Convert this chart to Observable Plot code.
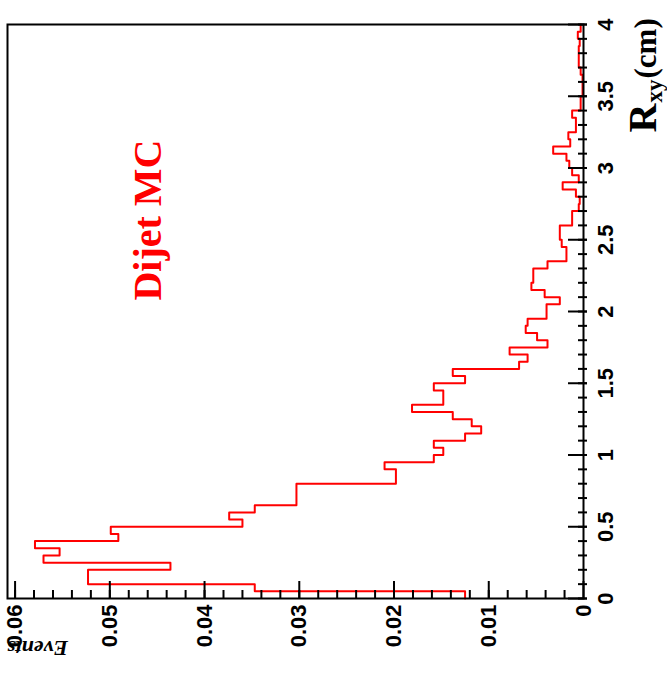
<!DOCTYPE html>
<html>
<head>
<meta charset="utf-8">
<script src="https://cdn.jsdelivr.net/npm/d3@7"></script>
<script src="https://cdn.jsdelivr.net/npm/@observablehq/plot@0.6"></script>
<style>
  html, body { margin: 0; padding: 0; background: #fff; }
  #chart svg { display: block; }
</style>
</head>
<body>
<div id="chart"></div>
<script>
// ---- data: normalized events per R_xy bin (bin width 0.05 cm, 0 to 4 cm) ----
const binWidth = 0.05;
const events = [
  0.0125, 0.0347, 0.0523, 0.0523, 0.0436, 0.0570, 0.0553, 0.0579, 0.0491, 0.0499,
  0.0360, 0.0374, 0.0347, 0.0303, 0.0303, 0.0303, 0.0198, 0.0198, 0.0210, 0.0158,
  0.0148, 0.0158, 0.0125, 0.0108, 0.0118, 0.0138, 0.0181, 0.0148, 0.0148, 0.0158,
  0.0125, 0.0138, 0.0068, 0.0059, 0.0078, 0.0038, 0.0049, 0.0061, 0.0059, 0.0039,
  0.0039, 0.0025, 0.0041, 0.0055, 0.0053, 0.0053, 0.0038, 0.0018, 0.0018, 0.0023,
  0.0025, 0.0025, 0.0012, 0.0012, 0.0005, 0.0004, 0.0008, 0.0022, 0.0005, 0.0012,
  0.0015, 0.0018, 0.0032, 0.0014, 0.0016, 0.0008, 0.0008, 0.0012, 0.0003, 0.0003,
  0.0001, 0.0001, 0.0001, 0.0003, 0.0005, 0.0005, 0.0005, 0.0004, 0.0006, 0.0003
];

// tick values / labels
const eventsTicks = [0, 0.01, 0.02, 0.03, 0.04, 0.05, 0.06];
const eventsMinor = d3.range(1, 31).map(i => i * 0.002);
const rxyTicks = [0, 0.5, 1, 1.5, 2, 2.5, 3, 3.5, 4];
const rxyMinor = d3.range(0, 41).map(i => i * 0.1);

const annotations = [{text: "Dijet MC", ev: 0.04465, rxy: 2.637}];

// ---- histogram outline (step) from bins ----
const outline = [];
events.forEach((v, i) => {
  outline.push({ev: v, rxy: i * binWidth});
  outline.push({ev: v, rxy: (i + 1) * binWidth});
});

const W = 667, H = 673;
const mL = 7, mR = 84, mT = 24, mB = 75;
const frameW = W - mL - mR, frameH = H - mT - mB;

const tickFont = {fontFamily: "Liberation Sans, Arial, sans-serif", fontWeight: "bold", fontSize: 22, fill: "black"};
const serif = "Liberation Serif, Times New Roman, serif";

const chart = Plot.plot({
  width: W,
  height: H,
  marginLeft: mL,
  marginRight: mR,
  marginTop: mT,
  marginBottom: mB,
  style: {background: "white", overflow: "visible"},
  x: {domain: [0.0608, 0], axis: null},
  y: {domain: [0, 4], axis: null},
  marks: [
    // histogram
    Plot.line(outline, {x: "ev", y: "rxy", stroke: "#ff0000", strokeWidth: 2, curve: "linear"}),
    // bottom (Events) ticks, pointing inward
    Plot.ruleX(eventsMinor, {x: d => d, insetTop: frameH - 8, stroke: "black", strokeWidth: 2}),
    Plot.ruleX(eventsTicks, {x: d => d, insetTop: frameH - 17, stroke: "black", strokeWidth: 2}),
    // right (R_xy) ticks
    Plot.ruleY(rxyMinor, {y: d => d, insetLeft: frameW - 5, insetRight: -4, stroke: "black", strokeWidth: 2}),
    Plot.ruleY(rxyTicks, {y: d => d, insetLeft: frameW - 15, insetRight: -4, stroke: "black", strokeWidth: 2}),
    // frame
    Plot.frame({stroke: "black", strokeWidth: 2}),
    // bottom tick labels (rotated)
    Plot.text(eventsTicks, {x: d => d, frameAnchor: "bottom", text: d => String(d), rotate: -90,
      textAnchor: "end", lineAnchor: "middle", dy: 6, ...tickFont}),
    // right tick labels (rotated)
    Plot.text(rxyTicks, {y: d => d, frameAnchor: "right", text: d => String(d), rotate: -90,
      textAnchor: "middle", lineAnchor: "middle", dx: 22, ...tickFont}),
    // axis title R_xy (cm)
    Plot.text(["R"], {frameAnchor: "top-right", text: d => d, rotate: -90, textAnchor: "start",
      lineAnchor: "bottom", dx: 72, dy: 108, fontFamily: serif, fontWeight: "bold",
      fontSize: 40, fill: "black"}),
    Plot.text(["xy"], {frameAnchor: "top-right", text: d => d, rotate: -90, textAnchor: "start",
      lineAnchor: "bottom", dx: 78, dy: 78, fontFamily: serif, fontWeight: "bold",
      fontSize: 23, fill: "black"}),
    Plot.text(["(cm)"], {frameAnchor: "top-right", text: d => d, rotate: -90, textAnchor: "start",
      lineAnchor: "bottom", dx: 72, dy: 54, fontFamily: serif,
      fontWeight: "bold", fontSize: 31, fill: "black"}),
    // axis title Events (upside down)
    Plot.text(["Events"], {frameAnchor: "bottom-left", text: d => d, rotate: 180, textAnchor: "middle",
      lineAnchor: "middle", dx: 30, dy: 50, fontFamily: serif,
      fontStyle: "italic", fontWeight: "bold", fontSize: 22, fill: "black"}),
    // annotation
    Plot.text(annotations, {x: "ev", y: "rxy", text: "text", rotate: -90, textAnchor: "middle",
      lineAnchor: "bottom", fontFamily: serif, fontWeight: "bold",
      fontSize: 40, fill: "#ff0000"})
  ]
});

document.getElementById("chart").appendChild(chart);
</script>
</body>
</html>
